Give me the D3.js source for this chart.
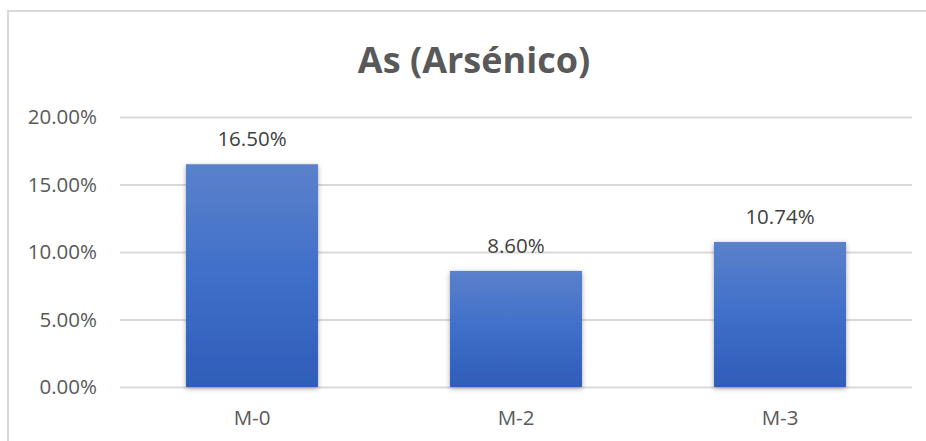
<!doctype html>
<html>
<head>
<meta charset="utf-8">
<script src="https://cdn.jsdelivr.net/npm/d3@7"></script>
<style>
  body { margin: 0; background: #fff; }
  text { font-family: "Open Sans", sans-serif; fill: #595959; }
</style>
</head>
<body>
<svg width="926" height="441"></svg>
<script>
// chart data
const categories = ["M-0", "M-2", "M-3"];
const values = [16.50, 8.60, 10.74];
const yTicks = [0, 5, 10, 15, 20];
const title = "As (Arsénico)";

const svg = d3.select("svg");

// outer chart border (runs off the right/bottom edges)
svg.append("rect")
    .attr("x", 8).attr("y", 11)
    .attr("width", 940).attr("height", 450)
    .attr("fill", "none").attr("stroke", "#d9d9d9").attr("stroke-width", 2);

const x = d3.scaleBand().domain(categories).range([120, 912])
    .paddingInner(0.5).paddingOuter(0.25);
const y = d3.scaleLinear().domain([0, 20]).range([387, 117]);

// gradient + shadow for bars
const defs = svg.append("defs");
const grad = defs.append("linearGradient").attr("id", "barGrad")
    .attr("x1", 0).attr("y1", 0).attr("x2", 0).attr("y2", 1);
grad.append("stop").attr("offset", "0%").attr("stop-color", "#5b81cb");
grad.append("stop").attr("offset", "50%").attr("stop-color", "#3f6fc9");
grad.append("stop").attr("offset", "100%").attr("stop-color", "#2e5db8");
const shadow = defs.append("filter").attr("id", "shadow")
    .attr("x", "-10%").attr("y", "-10%").attr("width", "120%").attr("height", "120%");
shadow.append("feDropShadow").attr("dx", 0).attr("dy", 1.5)
    .attr("stdDeviation", 2.5).attr("flood-color", "#000").attr("flood-opacity", 0.35);

// gridlines + y labels
const yAxis = svg.append("g")
    .attr("transform", "translate(120,0)")
    .call(d3.axisLeft(y).tickValues(yTicks).tickSize(-792)
        .tickFormat(d => d.toFixed(2) + "%"));
yAxis.select(".domain").remove();
yAxis.selectAll(".tick line").attr("stroke", "#d9d9d9").attr("stroke-width", 2);
yAxis.selectAll(".tick text")
    .attr("x", -23)
    .style("font-size", "20.5px")
    .attr("fill", "#595959");

// bars
svg.append("g").selectAll("rect")
    .data(values)
    .join("rect")
      .attr("x", (d, i) => x(categories[i]))
      .attr("y", d => y(d))
      .attr("width", x.bandwidth())
      .attr("height", d => y(0) - y(d))
      .attr("fill", "url(#barGrad)")
      .attr("filter", "url(#shadow)");

// value labels
svg.append("g").selectAll("text")
    .data(values)
    .join("text")
      .attr("x", (d, i) => x(categories[i]) + x.bandwidth() / 2)
      .attr("y", d => y(d) - 18)
      .attr("text-anchor", "middle")
      .style("font-size", "20.5px")
      .style("fill", "#404040")
      .text(d => d.toFixed(2) + "%");

// category labels
const xAxis = svg.append("g")
    .attr("transform", "translate(0,387)")
    .call(d3.axisBottom(x).tickSize(0));
xAxis.select(".domain").remove();
xAxis.selectAll(".tick text")
    .attr("y", 23).attr("dy", "0.71em")
    .style("font-size", "20.5px")
    .attr("fill", "#595959");

// title
svg.append("text")
    .attr("x", 474).attr("y", 73)
    .attr("text-anchor", "middle")
    .style("font-size", "36px").style("font-weight", "bold")
    .text(title);
</script>
</body>
</html>
